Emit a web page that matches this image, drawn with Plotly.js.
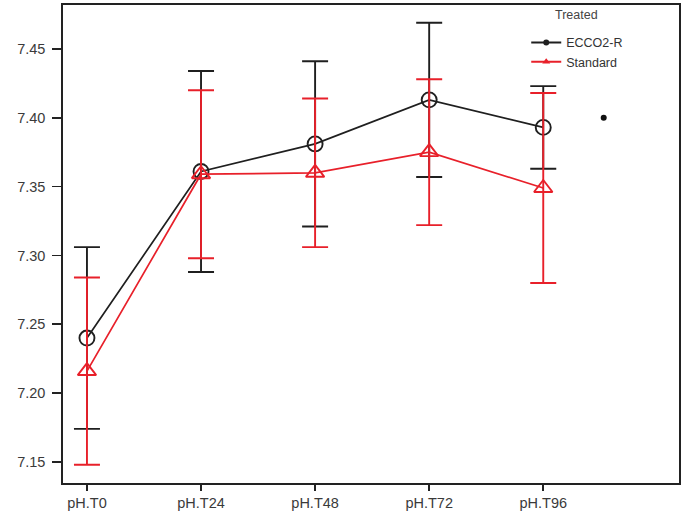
<!DOCTYPE html>
<html>
<head>
<meta charset="utf-8">
<script src="https://cdn.plot.ly/plotly-3.0.1.min.js"></script>
<style>
  html, body { margin: 0; padding: 0; background: #fff; }
  #chart { width: 685px; height: 530px; }
</style>
</head>
<body>
<div id="chart"></div>
<script>
// ---- data ----
const categories = ["pH.T0", "pH.T24", "pH.T48", "pH.T72", "pH.T96"];
const ecco2rMean = [7.240, 7.361, 7.381, 7.413, 7.393];
const ecco2rErr  = [0.066, 0.073, 0.060, 0.056, 0.030];
const standardMean = [7.216, 7.359, 7.360, 7.375, 7.349];
const standardErr  = [0.068, 0.061, 0.054, 0.053, 0.069];
const seriesNames = ["ECCO2-R", "Standard"];
const legendTitle = "Treated";
const yTickVals = [7.15, 7.20, 7.25, 7.30, 7.35, 7.40, 7.45];
const strayDotX = [4.53];
const strayDotY = [7.400];

const xIdx = categories.map((c, i) => i);
const black = "#1f1f1f";
const red = "#e8202a";

const traces = [
  {
    x: xIdx, y: ecco2rMean, type: "scatter", mode: "lines+markers",
    name: seriesNames[0], showlegend: false,
    line: { color: black, width: 1.7 },
    marker: { symbol: "circle-open", size: 15, color: black, line: { width: 1.9, color: black } },
    error_y: { type: "data", array: ecco2rErr, visible: true, color: black, thickness: 1.9, width: 13 }
  },
  {
    x: xIdx, y: standardMean, type: "scatter", mode: "lines+markers",
    name: seriesNames[1], showlegend: false,
    line: { color: red, width: 1.7 },
    marker: { symbol: "triangle-up-open", size: 16, color: red, line: { width: 1.9, color: red } },
    error_y: { type: "data", array: standardErr, visible: true, color: red, thickness: 1.9, width: 13 }
  },
  // legend-only entries (small symbols, as in the reference legend)
  {
    x: [null], y: [null], type: "scatter", mode: "lines+markers", name: seriesNames[0],
    line: { color: black, width: 2 },
    marker: { symbol: "circle", size: 6, color: black }
  },
  {
    x: [null], y: [null], type: "scatter", mode: "lines+markers", name: seriesNames[1],
    line: { color: red, width: 2 },
    marker: { symbol: "triangle-up", size: 7, color: red }
  },
  {
    x: strayDotX, y: strayDotY, type: "scatter", mode: "markers", showlegend: false,
    marker: { symbol: "circle", size: 6, color: "#111" }, hoverinfo: "skip"
  }
];

const tickFont = { family: "Liberation Sans, Arial, sans-serif", size: 14.5, color: "#3a3a3a" };

const layout = {
  width: 685, height: 530,
  margin: { l: 63, r: 6, t: 5, b: 47 },
  paper_bgcolor: "#fff", plot_bgcolor: "#fff",
  showlegend: true,
  legend: {
    x: 0.752, xanchor: "left", y: 0.952, yanchor: "top",
    bgcolor: "rgba(0,0,0,0)",
    font: { family: "Liberation Sans, Arial, sans-serif", size: 12.5, color: "#333" },
    itemwidth: 30,
    tracegroupgap: 0
  },
  annotations: [
    { text: legendTitle, xref: "paper", yref: "paper", x: 0.834, y: 0.979,
      xanchor: "center", yanchor: "middle", showarrow: false,
      font: { family: "Liberation Sans, Arial, sans-serif", size: 12.5, color: "#444" } }
  ],
  xaxis: {
    range: [-0.21, 5.19],
    tickmode: "array", tickvals: xIdx, ticktext: categories,
    showgrid: false, zeroline: false,
    showline: true, mirror: true, linecolor: "#222", linewidth: 1.7,
    ticks: "outside", ticklen: 6, tickwidth: 1.7, tickcolor: "#222",
    ticklabelstandoff: 0,
    tickfont: tickFont
  },
  yaxis: {
    range: [7.1347, 7.4819],
    tickmode: "array", tickvals: yTickVals, ticktext: yTickVals.map(v => v.toFixed(2)),
    showgrid: false, zeroline: false,
    showline: true, mirror: true, linecolor: "#222", linewidth: 1.7,
    ticks: "outside", ticklen: 9, tickwidth: 1.7, tickcolor: "#222",
    ticklabelstandoff: 4,
    tickfont: tickFont
  }
};

Plotly.newPlot("chart", traces, layout, { displayModeBar: false, staticPlot: true });
</script>
</body>
</html>
